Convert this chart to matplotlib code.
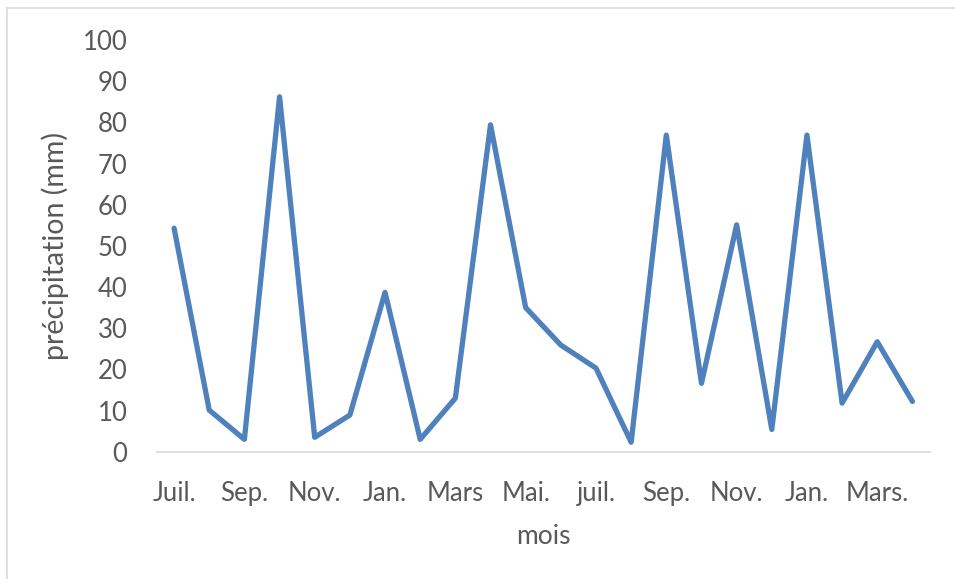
import matplotlib
matplotlib.use("Agg")
import matplotlib.pyplot as plt
from matplotlib.lines import Line2D

# Données (précipitations mensuelles, juil. -> avril)
mois = ["Juil.", "Août", "Sep.", "Oct.", "Nov.", "Déc.", "Jan.", "Fév.", "Mars",
        "Avr.", "Mai.", "Juin", "juil.", "Août", "Sep.", "Oct.", "Nov.", "Déc.",
        "Jan.", "Fév.", "Mars.", "Avr."]
precipitation = [54.3, 10.1, 3.0, 86.2, 3.5, 8.9, 38.7, 3.0, 13.0, 79.4, 35.0,
                 25.9, 20.3, 2.3, 76.9, 16.6, 55.1, 5.4, 76.9, 11.8, 26.7, 12.2]
yticks = list(range(0, 101, 10))

plt.rcParams['font.family'] = ['Lato', 'DejaVu Sans']
couleur_texte = '#595959'

fig = plt.figure(figsize=(9.55, 5.79), dpi=100)
ax = fig.add_axes([156.5 / 955, 1 - 451.7 / 579, (930 - 156.5) / 955, (451.7 - 40) / 579])

x = list(range(len(precipitation)))
ax.plot(x, precipitation, color='#4F81BD', linewidth=3.8,
        solid_joinstyle='round', solid_capstyle='round')

ax.set_xlim(-0.5, len(precipitation) - 0.5)
ax.set_ylim(0, 100)
ax.set_yticks(yticks)
ax.set_xticks(x[::2])
ax.set_xticklabels(mois[::2])

for s in ['top', 'right', 'left']:
    ax.spines[s].set_visible(False)
ax.spines['bottom'].set_color('#D9D9D9')
ax.spines['bottom'].set_linewidth(1.2)

ax.tick_params(axis='both', length=0, labelsize=18.5, labelcolor=couleur_texte)
ax.tick_params(axis='y', pad=21)
ax.tick_params(axis='x', pad=21)

ax.set_xlabel('mois', fontsize=19, color=couleur_texte, labelpad=13)
ax.set_ylabel('précipitation (mm)', fontsize=20.5, color=couleur_texte, labelpad=10)

# cadre extérieur (haut et gauche visibles)
fig.add_artist(Line2D([7 / 955, 1], [1 - 7.5 / 579, 1 - 7.5 / 579],
                      transform=fig.transFigure, color='#D9D9D9', linewidth=1.2))
fig.add_artist(Line2D([7 / 955, 7 / 955], [0, 1 - 7.5 / 579],
                      transform=fig.transFigure, color='#D9D9D9', linewidth=1.2))

fig.savefig('out.png', dpi=100)
